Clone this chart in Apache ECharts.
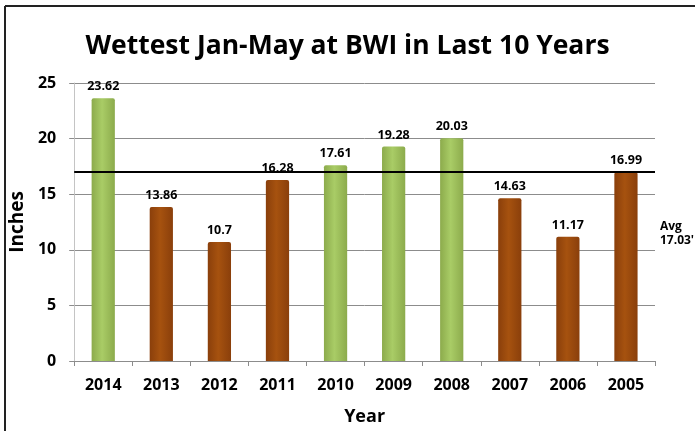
<!DOCTYPE html>
<html>
<head>
<meta charset="utf-8">
<script src="https://cdn.jsdelivr.net/npm/echarts@6/dist/echarts.min.js"></script>
<style>
html,body{margin:0;padding:0;background:#fff;}
#chart{width:695px;height:431px;}
</style>
</head>
<body>
<div id="chart"></div>
<script>
var years = ['2014','2013','2012','2011','2010','2009','2008','2007','2006','2005'];
var inches = [23.62, 13.86, 10.7, 16.28, 17.61, 19.28, 20.03, 14.63, 11.17, 16.99];
var average = 17.03;
var yTicks = [0, 5, 10, 15, 20, 25];

var FONT = '"Open Sans"';
function grad(edge, mid) {
  return new echarts.graphic.LinearGradient(0, 0, 1, 0, [
    {offset: 0, color: edge},
    {offset: 0.45, color: mid},
    {offset: 1, color: edge}
  ]);
}
var greenFill = grad('#8cab4c', '#a9cc66');
var brownFill = grad('#8a3f0b', '#a6520f');

var chart = echarts.init(document.getElementById('chart'));
chart.setOption({
  animation: false,
  textStyle: {fontFamily: FONT},
  title: {
    text: 'Wettest Jan-May at BWI in Last 10 Years',
    left: 'center', top: 28,
    textStyle: {fontFamily: FONT, fontWeight: 'bold', fontSize: 26.5, color: '#000'}
  },
  grid: {left: 72, right: 40, top: 83, bottom: 69},
  xAxis: {
    type: 'category',
    data: years,
    name: 'Year',
    nameLocation: 'middle',
    nameGap: 47,
    nameTextStyle: {fontFamily: FONT, fontWeight: 'bold', fontSize: 18, color: '#000', verticalAlign: 'top'},
    axisLine: {lineStyle: {color: '#8c8c8c', width: 1}},
    axisTick: {show: true, length: 5, lineStyle: {color: '#8c8c8c'}},
    axisLabel: {fontFamily: FONT, fontWeight: 'bold', fontSize: 16, color: '#000', margin: 16}
  },
  yAxis: {
    type: 'value',
    min: yTicks[0], max: yTicks[yTicks.length - 1], interval: 5,
    name: 'Inches',
    nameLocation: 'middle',
    nameGap: 46,
    nameRotate: 90,
    nameTextStyle: {fontFamily: FONT, fontWeight: 'bold', fontSize: 19, color: '#000'},
    axisLine: {show: true, lineStyle: {color: '#c4c4c4', width: 1}},
    axisTick: {show: true, length: 5, lineStyle: {color: '#8c8c8c'}},
    axisLabel: {fontFamily: FONT, fontWeight: 'bold', fontSize: 16, color: '#000', margin: 18},
    splitLine: {lineStyle: {color: '#8c8c8c', width: 1}}
  },
  series: [{
    type: 'bar',
    data: inches.map(function (v) {
      return {value: v, itemStyle: {color: v > average ? greenFill : brownFill}};
    }),
    barWidth: '40%',
    itemStyle: {borderRadius: [2, 2, 0, 0]},
    label: {
      show: true, position: 'top', distance: 5,
      fontFamily: FONT, fontWeight: 'bold', fontSize: 12.5, color: '#000'
    },
    markLine: {
      symbol: 'none',
      silent: true,
      lineStyle: {color: '#000', width: 2, type: 'solid'},
      label: {show: false},
      data: [{yAxis: average}]
    }
  }],
  graphic: [
    {type: 'line', shape: {x1: 5, y1: 6, x2: 5, y2: 431}, style: {stroke: '#222', lineWidth: 2}},
    {type: 'line', shape: {x1: 5, y1: 6, x2: 695, y2: 6}, style: {stroke: '#222', lineWidth: 2}},
    {type: 'text', left: 660, top: 220, style: {
      text: 'Avg\n' + average.toFixed(2) + '\'', fontFamily: FONT, fontWeight: 'bold', fontSize: 12, fill: '#000', lineHeight: 14
    }}
  ]
});
</script>
</body>
</html>
